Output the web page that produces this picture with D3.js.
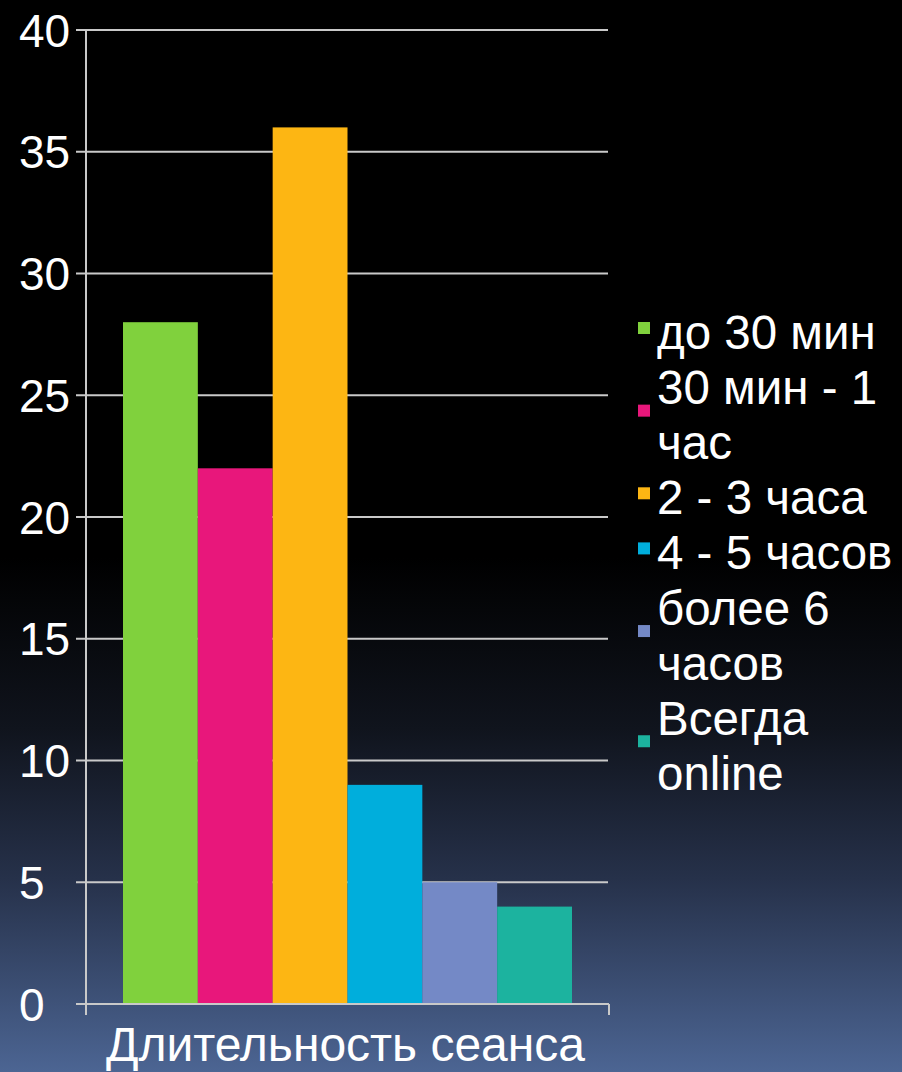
<!DOCTYPE html>
<html><head><meta charset="utf-8">
<script src="https://cdn.jsdelivr.net/npm/d3@7"></script>
<style>html,body{margin:0;padding:0;background:#000;}svg{display:block;}</style>
</head><body>
<script>
const categories = ["Длительность сеанса"];
const seriesNames = ["до 30 мин", "30 мин - 1 час", "2 - 3 часа", "4 - 5 часов", "более 6 часов", "Всегда online"];
const legendLines = [["до 30 мин"], ["30 мин - 1", "час"], ["2 - 3 часа"], ["4 - 5 часов"], ["более 6", "часов"], ["Всегда", "online"]];
const values = [28, 22, 36, 9, 5, 4];
const colors = ["#80d13d", "#e8177b", "#fdb613", "#00aedc", "#7489c6", "#1cb39f"];
const yTicks = [0, 5, 10, 15, 20, 25, 30, 35, 40];

(function () {
const W = 902, H = 1072;
const svg = d3.select("body").append("svg").attr("width", W).attr("height", H);
const defs = svg.append("defs");
const grad = defs.append("linearGradient").attr("id", "bg").attr("x1", 0).attr("y1", 0).attr("x2", 0).attr("y2", 1);
[[0, "#000000"], [0.52, "#000000"], [0.68, "#10141d"], [0.82, "#26314a"], [1, "#4c6593"]].forEach(([o, c]) =>
  grad.append("stop").attr("offset", o).attr("stop-color", c));
svg.append("rect").attr("width", W).attr("height", H).attr("fill", "url(#bg)");

const font = "'Liberation Sans', Arial, sans-serif";
const pL = 86, pR = 609, pT = 30, pB = 1004;
const y = d3.scaleLinear().domain([0, 40]).range([pB, pT]);
const x0 = d3.scaleBand().domain(categories).range([pL, pR]).paddingInner(0).paddingOuter(0);
const groupPad = 37;
const x1 = d3.scaleBand().domain(seriesNames).range([groupPad, x0.bandwidth() - groupPad]).padding(0);

const gridColor = "#c9c9c9";
svg.append("g").selectAll("line").data(yTicks).join("line")
  .attr("x1", pL - 10).attr("x2", pR - 1)
  .attr("y1", d => y(d)).attr("y2", d => y(d))
  .attr("stroke", gridColor).attr("stroke-width", 2);

const g = svg.append("g");
categories.forEach(cat => {
  g.selectAll("rect.b").data(values).join("rect")
    .attr("x", (d, i) => x0(cat) + x1(seriesNames[i]))
    .attr("width", x1.bandwidth())
    .attr("y", d => y(d))
    .attr("height", d => y(0) - y(d))
    .attr("fill", (d, i) => colors[i]);
});

svg.append("line").attr("x1", pL).attr("x2", pL).attr("y1", pT).attr("y2", pB + 11)
  .attr("stroke", gridColor).attr("stroke-width", 2);
svg.append("line").attr("x1", pL - 10).attr("x2", pR).attr("y1", pB).attr("y2", pB)
  .attr("stroke", gridColor).attr("stroke-width", 2);
svg.append("line").attr("x1", pR).attr("x2", pR).attr("y1", pB).attr("y2", pB + 11)
  .attr("stroke", gridColor).attr("stroke-width", 2);

svg.append("g").selectAll("text").data(yTicks).join("text")
  .attr("x", 19).attr("y", d => y(d))
  .attr("dy", "0.36em")
  .attr("fill", "#fff").attr("font-family", font).attr("font-size", 46)
  .text(d => d);

svg.append("g").selectAll("text").data(categories).join("text")
  .attr("x", d => x0(d) + x0.bandwidth() / 2 - 2).attr("y", 1061)
  .attr("text-anchor", "middle")
  .attr("fill", "#fff").attr("font-family", font).attr("font-size", 48)
  .text(d => d);

const lineH = 55.1;
let baseline = 349;
const lg = svg.append("g");
legendLines.forEach((lines, i) => {
  const first = baseline;
  lines.forEach((t, j) => {
    lg.append("text").attr("x", 657).attr("y", baseline + j * lineH)
      .attr("fill", "#fff").attr("font-family", font).attr("font-size", 47.5).text(t);
  });
  const mid = first + (lines.length - 1) * lineH / 2 - 21;
  lg.append("rect").attr("x", 638).attr("y", mid - 6).attr("width", 12).attr("height", 12).attr("fill", colors[i]);
  baseline += lines.length * lineH;
});
})();
</script>
</body></html>
